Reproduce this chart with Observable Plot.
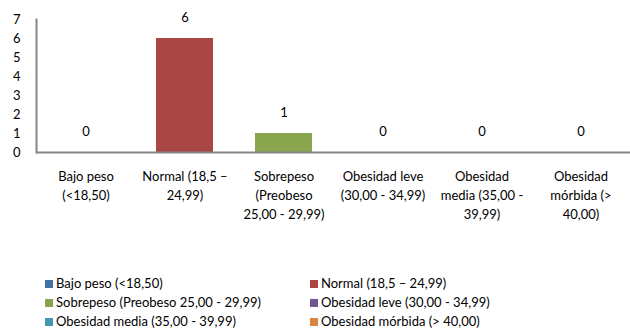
<!DOCTYPE html>
<html>
<head>
<meta charset="utf-8">
<script src="https://cdn.jsdelivr.net/npm/d3@7"></script>
<script src="https://cdn.jsdelivr.net/npm/@observablehq/plot@0.6"></script>
<style>
  body { margin: 0; background: #fff; font-family: Lato, "Open Sans", sans-serif; }
  #chart svg { display: block; }
  .legend { display: grid; grid-template-columns: 265px 300px; margin: 34px 0 0 45px; font-size: 13px; line-height: 19px; color: #000; }
  .legend div { display: flex; align-items: center; white-space: nowrap; }
  .legend span.sw { width: 8px; height: 8px; margin-right: 3px; flex: none; }
</style>
</head>
<body>
<div id="chart"></div>
<div class="legend" id="legend"></div>
<script>
const categories = [
  "Bajo peso (<18,50)",
  "Normal (18,5 – 24,99)",
  "Sobrepeso (Preobeso 25,00 - 29,99)",
  "Obesidad leve (30,00 - 34,99)",
  "Obesidad media (35,00 - 39,99)",
  "Obesidad mórbida (> 40,00)"
];
const tickLabels = [
  "Bajo peso\n(<18,50)",
  "Normal (18,5 –\n24,99)",
  "Sobrepeso\n(Preobeso\n25,00 - 29,99)",
  "Obesidad leve\n(30,00 - 34,99)",
  "Obesidad\nmedia (35,00 -\n39,99)",
  "Obesidad\nmórbida (>\n40,00)"
];
const values = [0, 6, 1, 0, 0, 0];
const colors = ["#4572A7", "#AA4643", "#89A54E", "#71588F", "#4198AF", "#DB843D"];
const yTicks = [0, 1, 2, 3, 4, 5, 6, 7];

const data = categories.map((c, i) => ({category: c, value: values[i], label: tickLabels[i]}));
const labelOf = new Map(categories.map((c, i) => [c, tickLabels[i]]));

const chart = Plot.plot({
  width: 630,
  height: 240,
  marginTop: 19,
  marginBottom: 88,
  marginLeft: 36,
  marginRight: 0,
  style: {fontFamily: "Lato, 'Open Sans', sans-serif", fontSize: "13px", color: "#000"},
  x: {domain: categories, padding: 0},
  y: {domain: [0, 7]},
  color: {domain: categories, range: colors},
  marks: [
    Plot.barY(data, {x: "category", y: "value", fill: "category", insetLeft: 21, insetRight: 21}),
    Plot.frame({anchor: "left", stroke: "#868686", strokeWidth: 2}),
    Plot.ruleY([0], {stroke: "#868686", strokeWidth: 2}),
    Plot.text(data, {x: "category", y: "value", text: d => String(d.value), dy: -21, fontSize: 13, fill: "#000"}),
    Plot.axisY({ticks: yTicks, tickFormat: "d", tickSize: 0, tickPadding: 16, label: null, fontSize: 13}),
    Plot.axisX({tickSize: 0, tickPadding: 15, label: null, tickFormat: d => labelOf.get(d), lineHeight: 1.45, fontSize: 13})
  ]
});
document.getElementById("chart").appendChild(chart);

const legend = document.getElementById("legend");
categories.forEach((c, i) => {
  const item = document.createElement("div");
  const sw = document.createElement("span");
  sw.className = "sw";
  sw.style.background = colors[i];
  item.appendChild(sw);
  item.appendChild(document.createTextNode(c));
  legend.appendChild(item);
});
</script>
</body>
</html>
